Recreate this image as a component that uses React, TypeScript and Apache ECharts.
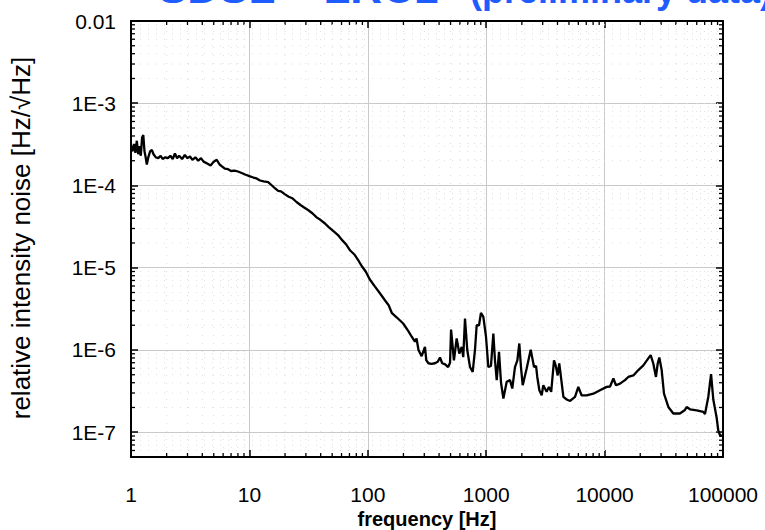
import React, { useEffect, useRef } from 'react';
import * as echarts from 'echarts';

// Frequency (Hz) and relative intensity noise (1/sqrt(Hz))
const freqHz = [
  1.0, 1.03, 1.06, 1.09, 1.12, 1.15, 1.18, 1.21, 1.24, 1.27, 1.3, 1.33, 1.36, 1.4, 1.45, 1.5, 1.55, 1.62, 1.7, 1.78,
  1.85, 1.95, 2.05, 2.15, 2.25, 2.35, 2.45, 2.55, 2.7, 2.85, 3.0, 3.15, 3.3, 3.5, 3.7, 3.9, 4.1, 4.4, 4.7, 5.0,
  5.3, 5.6, 5.9, 6.2, 6.6, 7.0, 7.5, 8.0, 8.6, 9.2, 10, 10.8, 11.5, 12.3, 13.2, 14.4, 15.5, 16.5, 17.5, 18.5,
  20, 21.5, 23, 25, 27, 29, 31.5, 34, 37, 40, 43.5, 47, 51, 56, 61, 66, 71, 77, 84, 90,
  96, 104, 115, 127, 140, 150, 160, 175, 199, 220, 235, 250, 258, 268, 285, 304, 312, 325, 345, 369,
  390, 407, 425, 450, 477, 495, 505, 534, 563, 593, 621, 640, 662, 692, 730, 769, 804, 831, 870, 903,
  946, 996, 1043, 1097, 1149, 1186, 1227, 1283, 1334, 1397, 1490, 1589, 1660, 1750, 1833, 1904, 1966, 2034, 2197, 2376,
  2535, 2636, 2700, 2812, 2943, 3035, 3240, 3385, 3540, 3738, 3860, 4017, 4140, 4210, 4487, 4786, 5110, 5623, 6000, 6400,
  7063, 8035, 9140, 10420, 11120, 11860, 12480, 13490, 14860, 15850, 17490, 19280, 21250, 23400, 24500, 25780, 27150, 28100, 28980, 30340,
  31740, 34540, 38050, 43240, 47700, 49300, 52650, 59950, 68200, 70450, 75160, 79300, 82800, 88400, 91200, 95000, 100000,
];
const rinValues = [
  2.9e-4, 2.6e-4, 3.2e-4, 2.5e-4, 3.5e-4, 2.4e-4, 3.0e-4, 2.3e-4, 3.8e-4, 4.1e-4, 2.6e-4, 2.2e-4, 1.8e-4, 2.2e-4, 2.6e-4, 2.7e-4, 2.4e-4, 2.2e-4, 2.15e-4, 2.3e-4,
  2.1e-4, 2.2e-4, 2.15e-4, 2.3e-4, 2.1e-4, 2.45e-4, 2.15e-4, 2.3e-4, 2.1e-4, 2.35e-4, 2.15e-4, 2.25e-4, 2.05e-4, 2.2e-4, 2.0e-4, 2.15e-4, 1.95e-4, 1.85e-4, 1.75e-4, 1.95e-4,
  2.05e-4, 1.8e-4, 1.7e-4, 1.6e-4, 1.58e-4, 1.5e-4, 1.52e-4, 1.48e-4, 1.42e-4, 1.36e-4, 1.3e-4, 1.25e-4, 1.22e-4, 1.15e-4, 1.12e-4, 1.1e-4, 1.0e-4, 9.2e-5, 8.6e-5, 8.5e-5,
  7.8e-5, 7.3e-5, 7.0e-5, 6.3e-5, 5.8e-5, 5.4e-5, 5.0e-5, 4.6e-5, 4.1e-5, 3.8e-5, 3.45e-5, 3.1e-5, 2.8e-5, 2.5e-5, 2.15e-5, 1.9e-5, 1.62e-5, 1.45e-5, 1.2e-5, 1.02e-5,
  9.0e-6, 7.2e-6, 5.9e-6, 4.86e-6, 4.0e-6, 3.5e-6, 2.8e-6, 2.5e-6, 2.1e-6, 1.7e-6, 1.45e-6, 1.26e-6, 1.38e-6, 1.0e-6, 8.4e-7, 1.09e-6, 7.5e-7, 6.9e-7, 6.8e-7, 6.9e-7,
  7.2e-7, 8.1e-7, 6.9e-7, 6.7e-7, 6.2e-7, 7.0e-7, 1.77e-6, 7.5e-7, 1.38e-6, 9.05e-7, 1.09e-6, 8.2e-7, 2.41e-6, 1.0e-6, 6.2e-7, 5.4e-7, 1.0e-6, 2.0e-6, 2.0e-6, 2.83e-6,
  2.53e-6, 1.45e-6, 6.2e-7, 6.4e-7, 1.58e-6, 7.5e-7, 4.3e-7, 9.5e-7, 4.0e-7, 2.57e-7, 4.1e-7, 4.3e-7, 3.4e-7, 6.2e-7, 7.5e-7, 1.2e-6, 6.2e-7, 3.73e-7, 5.95e-7, 1.01e-6,
  6.2e-7, 6.4e-7, 4.7e-7, 3.24e-7, 2.82e-7, 3.73e-7, 3.1e-7, 3.56e-7, 3.1e-7, 7.5e-7, 6.5e-7, 4.9e-7, 6.85e-7, 5.7e-7, 2.69e-7, 2.5e-7, 2.4e-7, 2.7e-7, 3.56e-7, 2.8e-7,
  2.8e-7, 2.94e-7, 3.24e-7, 3.56e-7, 3.6e-7, 4.5e-7, 3.73e-7, 3.9e-7, 4.3e-7, 4.7e-7, 4.9e-7, 5.7e-7, 6.5e-7, 7.9e-7, 8.65e-7, 6.85e-7, 4.7e-7, 6.85e-7, 8.1e-7, 5.7e-7,
  2.94e-7, 2.03e-7, 1.69e-7, 1.69e-7, 1.86e-7, 2.03e-7, 1.9e-7, 1.85e-7, 1.77e-7, 1.66e-7, 2.7e-7, 5.1e-7, 2.5e-7, 1.5e-7, 1.05e-7, 9.0e-8, 9.2e-8,
];

const xTickValues = [1, 10, 100, 1000, 10000, 100000];
const yTickLabels = ['1E-7', '1E-6', '1E-5', '1E-4', '1E-3', '0.01'];
const X_MIN = 1;
const X_MAX = 100000;
const Y_MIN = 5e-8;
const Y_MAX = 0.01;

const FONT = '"Liberation Sans", Arial, Helvetica, sans-serif';

function minorValues(lo: number, hi: number): number[] {
  const out: number[] = [];
  for (let d = Math.floor(Math.log10(lo)); d <= Math.ceil(Math.log10(hi)); d++) {
    for (let m = 2; m <= 9; m++) {
      const v = m * Math.pow(10, d);
      if (v > lo * 1.0001 && v < hi * 0.9999) out.push(v);
    }
  }
  return out;
}

function logLabel(v: number): string {
  const l = Math.log10(v);
  const e = Math.round(l);
  if (Math.abs(l - e) > 0.01) return '';
  const idx = e + 7;
  return yTickLabels[idx] ?? '';
}

export default function App() {
  const ref = useRef<HTMLDivElement>(null);
  useEffect(() => {
    if (!ref.current) return;
    const chart = echarts.init(ref.current, null, { renderer: 'svg' });
    const xMinor = minorValues(X_MIN, X_MAX);
    const yMinor = minorValues(Y_MIN, Y_MAX);

    const axisLine = { show: true, onZero: false, lineStyle: { color: '#000', width: 2 } };
    const axisTick = { show: true, inside: true, length: 7, lineStyle: { color: '#000', width: 1.5 } };
    const gridLine = { show: true, lineStyle: { color: '#c9c9c9', width: 1 } };

    const option: any = {
      animation: false,
      backgroundColor: '#fff',
      grid: { left: 131, right: 42, top: 21, bottom: 73, containLabel: false },
      xAxis: [
        {
          type: 'log', logBase: 10, min: X_MIN, max: X_MAX, position: 'bottom',
          axisLine, axisTick, splitLine: gridLine, minorTick: { show: false },
          axisLabel: {
            fontSize: 21, color: '#000', fontFamily: FONT, margin: 27,
            formatter: (v: number) => {
              const r = Math.round(v);
              return xTickValues.includes(r) ? String(r) : '';
            },
          },
        },
        {
          type: 'log', logBase: 10, min: X_MIN, max: X_MAX, position: 'top',
          axisLine, axisTick, splitLine: { show: false }, axisLabel: { show: false },
        },
      ],
      yAxis: [
        {
          type: 'log', logBase: 10, min: Y_MIN, max: Y_MAX, position: 'left',
          axisLine, axisTick, splitLine: gridLine,
          axisLabel: { fontSize: 21, color: '#000', fontFamily: FONT, margin: 15, formatter: logLabel },
        },
        {
          type: 'log', logBase: 10, min: Y_MIN, max: Y_MAX, position: 'right',
          axisLine, axisTick, splitLine: { show: false }, axisLabel: { show: false },
        },
      ],
      graphic: [
        {
          type: 'text', x: 158, y: -13, silent: true,
          style: {
            text: 'SDSL – LRC1', fill: '#1f5cff', font: `bold 44px ${FONT}`,
            align: 'left', verticalAlign: 'middle',
          },
        },
        {
          type: 'text', x: 470, y: -10, silent: true,
          style: {
            text: '(preliminary data)', fill: '#1f5cff', font: `bold 36px ${FONT}`,
            align: 'left', verticalAlign: 'middle',
          },
        },
        {
          type: 'text', x: 21, y: 238, rotation: Math.PI / 2, silent: true,
          style: {
            text: 'relative intensity noise [Hz/√Hz]', fill: '#000', font: `26px ${FONT}`,
            align: 'center', verticalAlign: 'middle',
          },
        },
        {
          type: 'text', x: 427, y: 519, silent: true,
          style: {
            text: 'frequency [Hz]', fill: '#000', font: `bold 20px ${FONT}`,
            align: 'center', verticalAlign: 'middle',
          },
        },
      ],
      series: [
        {
          type: 'custom', xAxisIndex: 0, yAxisIndex: 0, silent: true, clip: false, z: 1,
          data: xMinor.map((f) => [f, Y_MAX]),
          renderItem: (_p: any, api: any) => {
            const f = api.value(0);
            const pb = api.coord([f, Y_MIN]);
            const pt = api.coord([f, Y_MAX]);
            return {
              type: 'group',
              children: [
                { type: 'line', shape: { x1: pb[0], y1: pb[1] - 1, x2: pb[0], y2: pt[1] + 1 }, style: { stroke: '#dedede', lineWidth: 1, lineDash: [1, 7] } },
                { type: 'line', shape: { x1: pb[0], y1: pb[1], x2: pb[0], y2: pb[1] - 4 }, style: { stroke: '#000', lineWidth: 1.3 } },
                { type: 'line', shape: { x1: pt[0], y1: pt[1], x2: pt[0], y2: pt[1] + 4 }, style: { stroke: '#000', lineWidth: 1.3 } },
              ],
            };
          },
        },
        {
          type: 'custom', xAxisIndex: 0, yAxisIndex: 0, silent: true, clip: false, z: 1,
          data: yMinor.map((v) => [X_MIN, v]),
          renderItem: (_p: any, api: any) => {
            const v = api.value(1);
            const pl = api.coord([X_MIN, v]);
            const pr = api.coord([X_MAX, v]);
            return {
              type: 'group',
              children: [
                { type: 'line', shape: { x1: pl[0] + 1, y1: pl[1], x2: pr[0] - 1, y2: pr[1] }, style: { stroke: '#dedede', lineWidth: 1, lineDash: [1, 7] } },
                { type: 'line', shape: { x1: pl[0], y1: pl[1], x2: pl[0] + 4, y2: pl[1] }, style: { stroke: '#000', lineWidth: 1.3 } },
                { type: 'line', shape: { x1: pr[0], y1: pr[1], x2: pr[0] - 4, y2: pr[1] }, style: { stroke: '#000', lineWidth: 1.3 } },
              ],
            };
          },
        },
        {
          type: 'line', xAxisIndex: 0, yAxisIndex: 0, z: 3,
          data: freqHz.map((f, i) => [f, rinValues[i]]),
          showSymbol: false, symbol: 'none',
          lineStyle: { color: '#000', width: 2.3 },
        },
      ],
    };
    chart.setOption(option);
    return () => chart.dispose();
  }, []);
  return (
    <div
      ref={ref}
      style={{ position: 'fixed', left: 0, top: 0, width: 765, height: 530, background: '#fff' }}
    />
  );
}
